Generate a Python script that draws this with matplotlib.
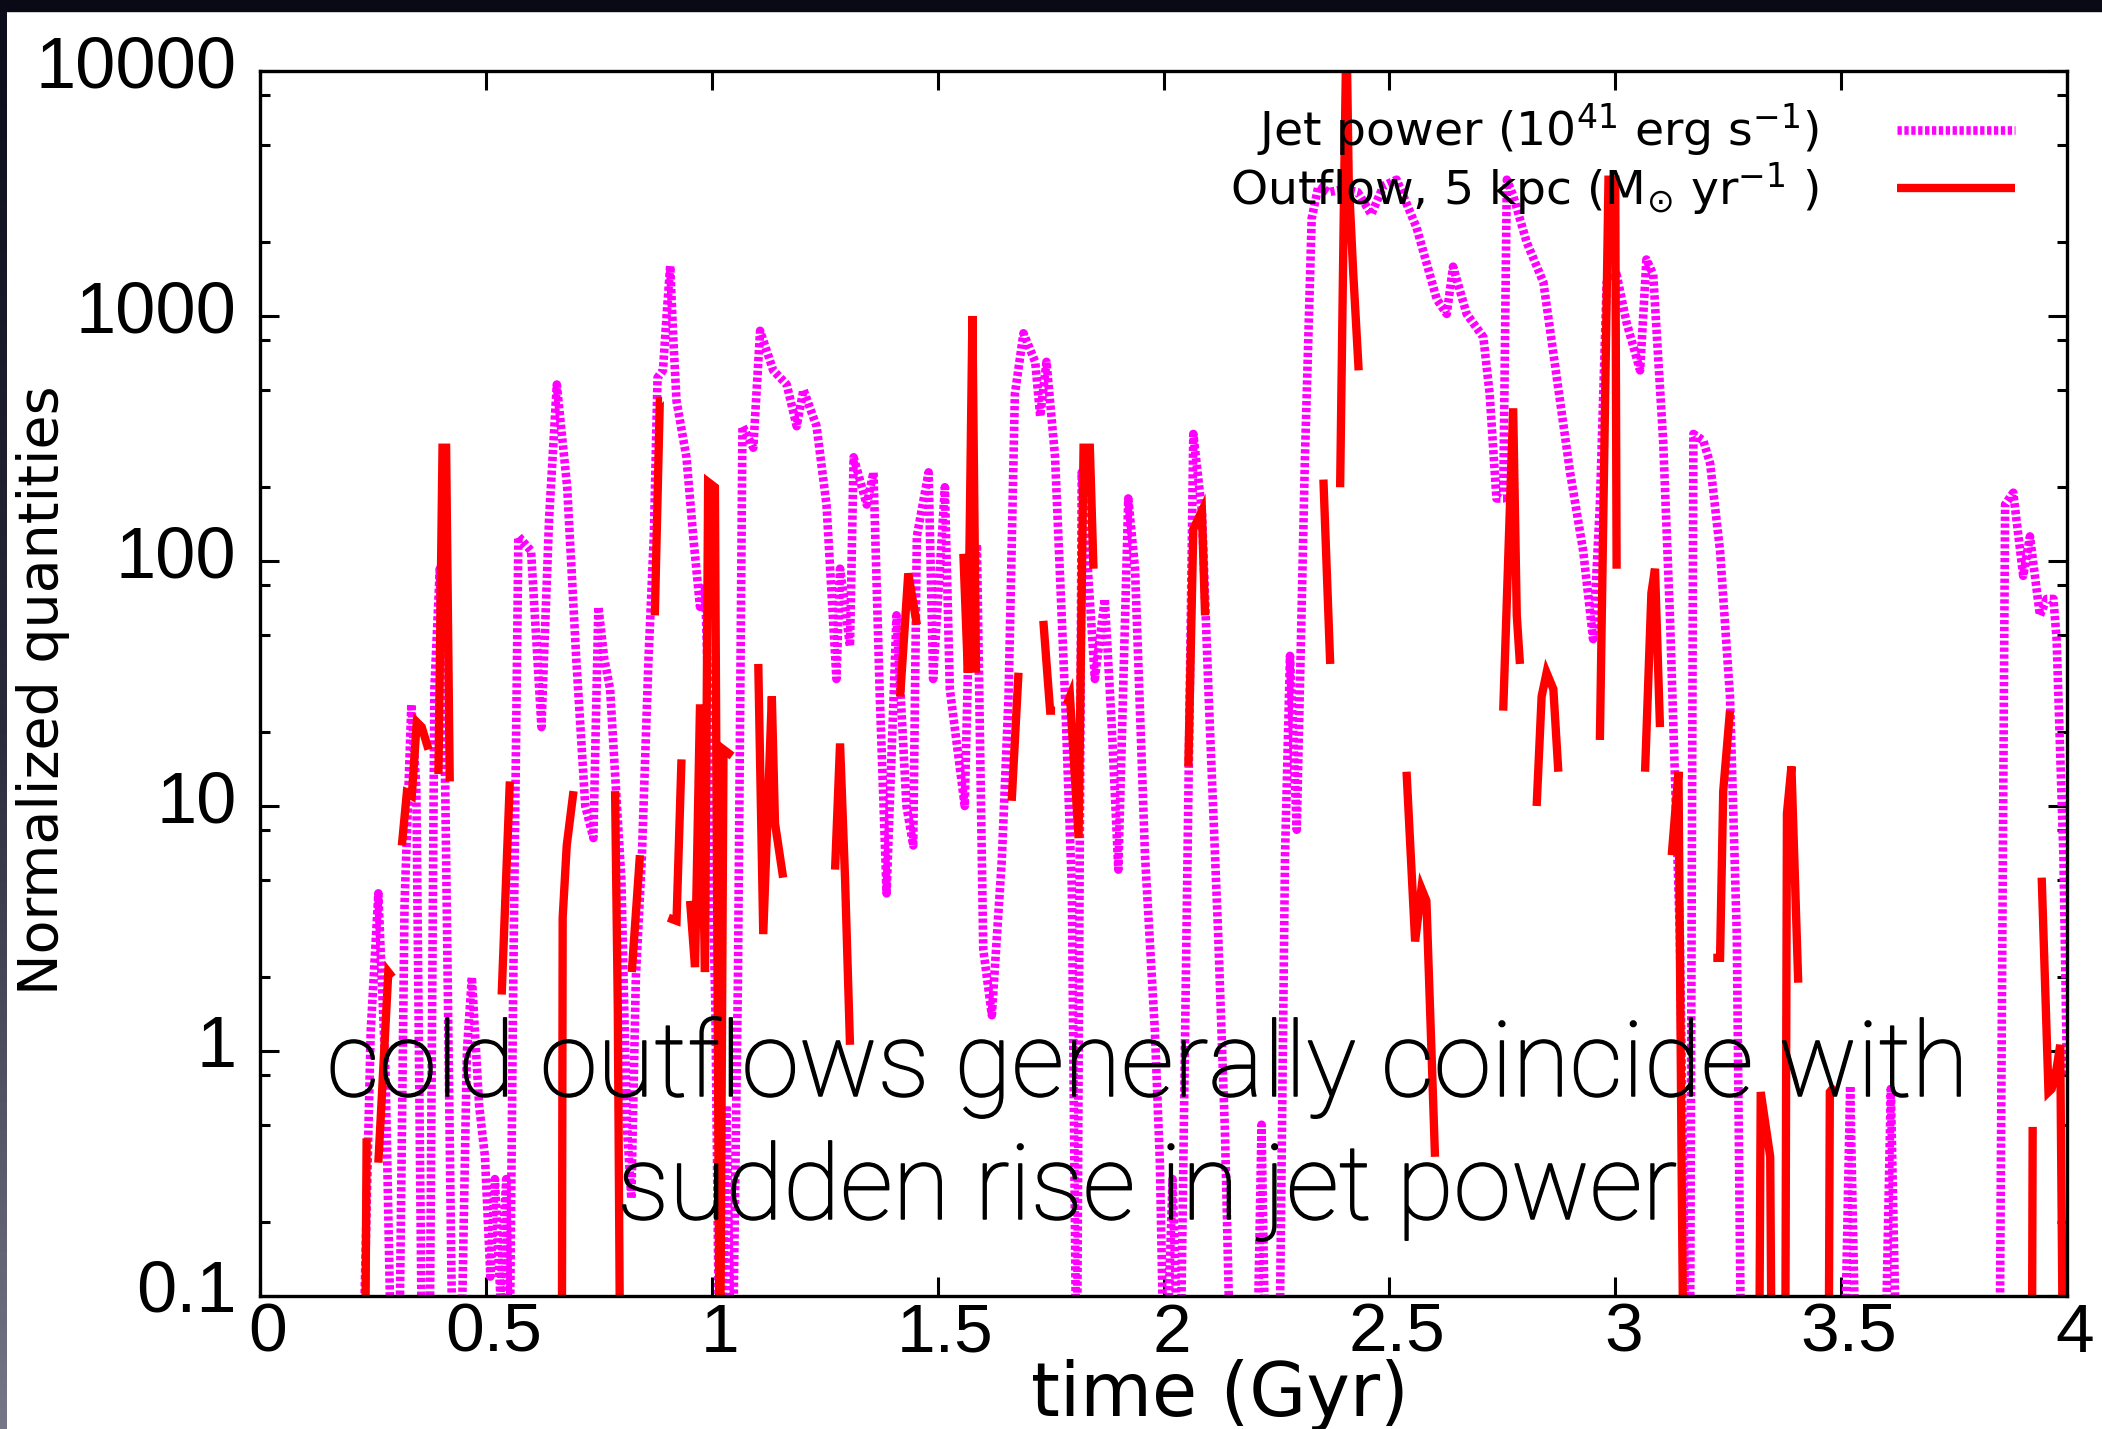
import numpy as np
import matplotlib
matplotlib.use("Agg")
import matplotlib.pyplot as plt
import matplotlib.patheffects as pe
from matplotlib.colors import LinearSegmentedColormap
from matplotlib.patches import Rectangle
from matplotlib.ticker import LogLocator, NullFormatter
from matplotlib.transforms import ScaledTranslation

NAN = np.nan

# jet power (1e41 erg/s); values < 0.1 just leave the axes
JET_T = [
    0.225, 0.245, 0.262, 0.278, 0.293, 0.308, 0.320, 0.335, 0.346, 0.360,
    0.375, 0.386, 0.398, 0.410, 0.428, 0.445, 0.458, 0.469, 0.485, 0.498,
    0.510, 0.520, 0.532, 0.545, 0.552, 0.560, 0.572, 0.600, 0.623, 0.640,
    0.657, 0.680, 0.700, 0.720, 0.738, 0.749, 0.762, 0.775, 0.786, 0.800,
    0.812, 0.822, 0.832, 0.845, 0.860, 0.872, 0.880, 0.892, 0.900, 0.908,
    0.915, 0.922, 0.944, 0.960, 0.974, 0.985, 0.995, 1.008, 1.018, 1.032,
    1.045, 1.058, 1.068, 1.092, 1.107, 1.136, 1.166, 1.188, 1.203, 1.232,
    1.254, 1.276, 1.284, 1.306, 1.314, 1.343, 1.358, 1.372, 1.387, 1.409,
    1.431, 1.446, 1.454, 1.480, 1.490, 1.516, 1.527, 1.560, 1.570, 1.587,
    1.601, 1.620, 1.642, 1.657, 1.671, 1.690, 1.716, 1.727, 1.741, 1.760,
    1.782, 1.797, 1.808, 1.819, 1.848, 1.870, 1.885, 1.900, 1.922, 1.937,
    1.959, 1.981, 1.992, 2.003, 2.020, 2.036, 2.066, 2.085, 2.100, 2.121,
    2.136, 2.151, 2.205, 2.217, 2.228, 2.255, 2.269, 2.280, 2.295, 2.313,
    2.328, 2.343, 2.365, 2.400, 2.430, 2.460, 2.487, 2.516, 2.560, 2.605,
    2.627, 2.641, 2.671, 2.708, 2.722, 2.737, 2.752, 2.760, 2.774, 2.804,
    2.841, 2.870, 2.900, 2.929, 2.951, 2.966, 2.981, 3.003, 3.025, 3.055,
    3.069, 3.084, 3.106, 3.121, 3.143, 3.158, 3.165, 3.173, 3.195, 3.210,
    3.232, 3.254, 3.269, 3.280, 3.505, 3.520, 3.535, 3.595, 3.610, 3.625,
    3.850, 3.863, 3.881, 3.903, 3.918, 3.940, 3.955, 3.970, 3.977, 3.992,
    4.000,
]
JET_V = [
    0.03, 1.2, 4.4, 0.8, 0.03, 0.05, 4, 26, 12, 0.03,
    0.04, 30, 93, 12, 0.03, 0.05, 1.0, 2.0, 0.6, 0.37,
    0.12, 0.3, 0.1, 0.3, 0.04, 1.5, 126, 110, 21, 150,
    525, 200, 40, 10, 7.4, 65, 40, 30, 13.5, 5,
    0.5, 0.25, 2, 6, 40, 130, 560, 600, 1000, 1600,
    800, 450, 265, 120, 65, 80, 20, 1.5, 0.03, 0.6,
    0.03, 2, 355, 290, 870, 600, 525, 355, 500, 355,
    170, 33, 93, 45, 265, 170, 230, 28, 4.4, 60,
    10, 6.9, 126, 230, 33, 200, 30, 10, 60, 117,
    2.6, 1.4, 6, 28, 480, 850, 650, 390, 650, 265,
    28, 4.7, 0.03, 230, 33, 70, 22, 5.5, 180, 93,
    6.3, 1.2, 0.35, 0.03, 0.3, 0.03, 330, 160, 28, 3,
    0.47, 0.03, 0.03, 0.5, 0.03, 0.03, 6.3, 41, 8, 260,
    2500, 3400, 3200, 3300, 3200, 2600, 3400, 3600, 2300, 1170,
    1020, 1590, 1020, 820, 480, 180, 180, 3600, 3100, 2000,
    1370, 570, 230, 110, 48, 170, 1370, 1480, 940, 600,
    1700, 1480, 310, 60, 3, 0.03, 0.03, 330, 310, 250,
    110, 28, 3, 0.03, 0.03, 0.72, 0.03, 0.03, 0.7, 0.03,
    0.03, 170, 190, 87, 126, 60, 70, 70, 48, 6.3,
    0.8,
]

# cold outflow through 5 kpc (Msun/yr); nan = no outflow, i.e. a gap
OUT_T = [
    0.232, 0.236, NAN, 0.262, 0.284, 0.293, NAN,
    0.314, 0.325, 0.336, 0.347, 0.358, 0.373, NAN,
    0.395, 0.404, 0.412, 0.420, NAN,
    0.535, 0.553, NAN,
    0.668, 0.670, 0.679, 0.694, NAN,
    0.786, 0.792, 0.798, NAN,
    0.823, 0.841, NAN,
    0.874, 0.885, 0.890, NAN,
    0.904, 0.922, 0.933, NAN,
    0.952, 0.963, 0.974, 0.985, 0.992, 1.007, 1.018, 1.026, 1.045, NAN,
    1.103, 1.114, 1.133, 1.140, 1.158, NAN,
    1.273, 1.284, 1.295, 1.306, NAN,
    1.417, 1.435, 1.454, NAN,
    1.557, 1.567, 1.577, 1.585, NAN,
    1.664, 1.679, NAN,
    1.734, 1.749, 1.760, NAN,
    1.786, 1.793, 1.812, 1.823, 1.837, 1.845, NAN,
    2.055, 2.066, 2.085, 2.092, NAN,
    2.354, 2.369, NAN,
    2.391, 2.400, 2.405, 2.410, 2.420, 2.432, NAN,
    2.538, 2.557, 2.571, 2.582, 2.601, NAN,
    2.752, 2.774, 2.782, 2.789, NAN,
    2.826, 2.837, 2.848, 2.863, 2.874, NAN,
    2.966, 2.985, 3.000, 3.003, NAN,
    3.066, 3.080, 3.088, 3.099, NAN,
    3.125, 3.140, 3.147, 3.152, NAN,
    3.217, 3.232, 3.239, 3.254, NAN,
    3.318, 3.322, 3.343, 3.347, NAN,
    3.376, 3.380, 3.390, 3.405, NAN,
    3.472, 3.475, 3.486, NAN,
    3.922, 3.924, NAN,
    3.944, 3.959, 3.966, 3.977, 3.985, 3.992,
]
OUT_V = [
    0.03, 0.44, NAN, 0.35, 2.1, 2.0, NAN,
    6.9, 11.3, 11, 22, 21, 17, NAN,
    13.5, 290, 290, 12.6, NAN,
    1.7, 12.6, NAN,
    0.03, 3.5, 6.9, 11.5, NAN,
    11.5, 1.5, 0.03, NAN,
    2.1, 6.3, NAN,
    60, 450, 450, NAN,
    3.5, 3.4, 15.5, NAN,
    4.1, 2.2, 26, 2.1, 210, 200, 0.03, 17, 16, NAN,
    38, 3, 28, 8.5, 5.1, NAN,
    5.5, 18, 5.1, 1.06, NAN,
    28, 89, 55, NAN,
    107, 35, 1000, 35, NAN,
    10.5, 35, NAN,
    57, 24.5, 24.5, NAN,
    26, 28, 7.4, 290, 290, 93, NAN,
    14.5, 135, 160, 60, NAN,
    215, 38, NAN,
    200, 3600, 15000, 3600, 1500, 600, NAN,
    13.8, 2.8, 4.6, 4.1, 0.37, NAN,
    24.5, 420, 60, 38, NAN,
    10, 28, 35, 30, 13.8, NAN,
    18.6, 3600, 3600, 93, NAN,
    13.8, 74, 93, 21, NAN,
    6.3, 13.8, 0.32, 0.03, NAN,
    2.4, 2.4, 11.5, 24.5, NAN,
    0.03, 0.68, 0.37, 0.03, NAN,
    0.03, 9.3, 14.5, 1.9, NAN,
    0.03, 0.68, 0.72, NAN,
    0.03, 0.49, NAN,
    5.1, 0.68, 0.7, 0.85, 1.06, 0.03,
]

X_TICKS = [0, 0.5, 1, 1.5, 2, 2.5, 3, 3.5, 4]
X_LABELS = ["0", "0.5", "1", "1.5", "2", "2.5", "3", "3.5", "4"]
Y_TICKS = [0.1, 1, 10, 100, 1000, 10000]
Y_LABELS = ["0.1", "1", "10", "100", "1000", "10000"]

JET_LABEL = r"Jet power (10$^{41}$ erg s$^{-1}$)"
OUT_LABEL = r"Outflow, 5 kpc (M$_{\odot}$ yr$^{-1}$ )"
NOTE_LINES = ["cold outflows generally coincide with", "sudden rise in jet power"]

W, H = 2102, 1429


def main() -> None:
    fig = plt.figure(figsize=(W / 100, H / 100), dpi=100)
    fig.patch.set_facecolor("white")

    # slide frame: dark band on top, graded strip on the left
    fig.add_artist(Rectangle((0, 1 - 11 / H), 1, 11 / H, transform=fig.transFigure,
                             color="#0a0a16", zorder=0))
    strip = fig.add_axes([0, 0, 7 / W, 1 - 11 / H])
    cmap = LinearSegmentedColormap.from_list("edge", ["#0c0c1a", "#2a2a3c", "#767688"])
    strip.imshow(np.linspace(0, 1, 200).reshape(-1, 1), cmap=cmap, aspect="auto")
    strip.set_axis_off()

    ax = fig.add_axes([260 / W, 1 - 1296 / H, 1807 / W, 1225 / H])
    ax.plot(JET_T, JET_V, color="#ff00ff", lw=6.2, linestyle=(0, (0.5, 0.3)),
            dash_capstyle="butt", label=JET_LABEL)
    ax.plot(OUT_T, OUT_V, color="#ff0000", lw=6.0, solid_capstyle="butt",
            solid_joinstyle="miter", label=OUT_LABEL)

    ax.set_yscale("log")
    ax.set_xlim(0, 4)
    ax.set_ylim(0.1, 10000)

    ax.set_xticks(X_TICKS, X_LABELS, family="Liberation Sans", size=50)
    ax.set_yticks(Y_TICKS, Y_LABELS, family="Liberation Sans", size=52)
    ax.yaxis.set_minor_locator(LogLocator(base=10, subs=[2, 5, 8]))
    ax.yaxis.set_minor_formatter(NullFormatter())
    ax.tick_params(which="both", direction="in", top=True, right=True, width=2.2)
    ax.tick_params(which="major", length=13.5)
    ax.tick_params(which="minor", length=7)
    ax.tick_params(axis="x", pad=4)
    ax.tick_params(axis="y", pad=17)
    for sp in ax.spines.values():
        sp.set_linewidth(2.4)

    # gnuplot put the numbers a little off their ticks
    shift_x = ScaledTranslation(0.08, 0, fig.dpi_scale_trans)
    shift_y = ScaledTranslation(0, 0.10, fig.dpi_scale_trans)
    for lab in ax.get_xticklabels():
        lab.set_transform(lab.get_transform() + shift_x)
    for lab in ax.get_yticklabels():
        lab.set_transform(lab.get_transform() + shift_y)

    leg = ax.legend(loc="upper right", bbox_to_anchor=(0.9712, 0.975), frameon=False,
                    markerfirst=False, prop={"family": "DejaVu Sans", "size": 34},
                    handlelength=2.5, handletextpad=1.65, labelspacing=0.02,
                    borderpad=0, borderaxespad=0)
    leg.set_zorder(5)

    fig.text(43 / W, 1 - 690 / H, "Normalized quantities", rotation=90,
             ha="center", va="center", family="DejaVu Sans", size=40)
    fig.text(1220 / W, 1 - 1396 / H, "time (Gyr)", ha="center", va="center",
             family="DejaVu Sans", size=53)

    # slide annotation; light face thickened a touch to match the keynote text
    for line, base in zip(NOTE_LINES, [1096, 1219]):
        fig.text(1147 / W, 1 - base / H, line, ha="center", va="baseline",
                 family="Roboto", weight="light", size=75, zorder=6,
                 path_effects=[pe.withStroke(linewidth=1.1, foreground="black")])

    fig.savefig("out.png", dpi=100, facecolor=fig.get_facecolor())
    plt.close(fig)


if __name__ == "__main__":
    main()
